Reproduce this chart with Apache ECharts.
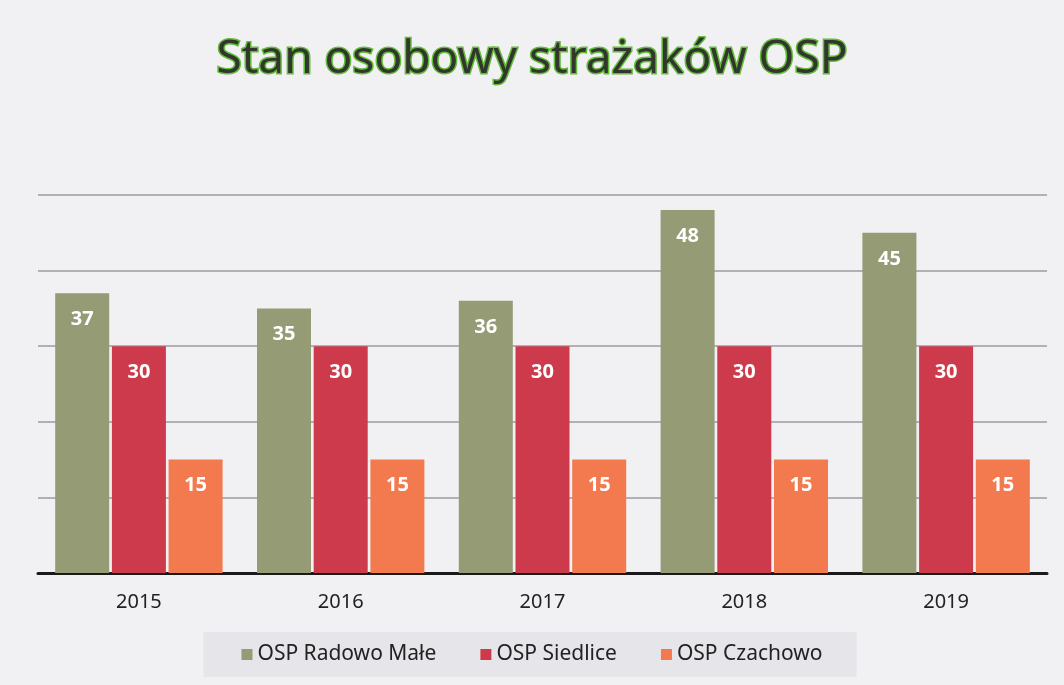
<!DOCTYPE html>
<html lang="pl">
<head>
    <meta charset="UTF-8">
    <title>Stan osobowy strażaków OSP</title>
    <script src="https://cdn.jsdelivr.net/npm/echarts@6/dist/echarts.min.js"></script>
    <style>
        html, body { margin: 0; padding: 0; background: #f1f0f3; }
        #chart { width: 1064px; height: 685px; }
    </style>
</head>
<body>
<div id="chart"></div>

<script type="text/javascript">
    // dane z wykresu
    var years = ['2015', '2016', '2017', '2018', '2019'];
    var radowo = [37, 35, 36, 48, 45];
    var siedlice = [30, 30, 30, 30, 30];
    var czachowo = [15, 15, 15, 15, 15];
    var names = ['OSP Radowo Małe', 'OSP Siedlice', 'OSP Czachowo'];
    var colors = ['#959b74', '#cd3a4c', '#f37a4e'];

    var font = 'Noto Sans';

    function barSeries(name, data, color) {
        return {
            name: name,
            type: 'bar',
            data: data,
            barWidth: 54,
            barGap: '5%',
            itemStyle: { color: color },
            label: {
                show: true,
                position: 'insideTop',
                distance: 16,
                color: '#ffffff',
                fontFamily: font,
                fontWeight: 'bold',
                fontSize: 20
            }
        };
    }

    var myChart = echarts.init(document.getElementById('chart'));
    var option = {
        backgroundColor: '#f1f0f3',
        title: {
            text: 'Stan osobowy strażaków OSP',
            left: 'center',
            top: 32,
            textStyle: {
                fontFamily: font,
                fontSize: 46,
                fontWeight: 'normal',
                color: '#33362f',
                textBorderColor: '#62bd38',
                textBorderWidth: 3
            }
        },
        legend: {
            data: names,
            bottom: 8,
            left: 'center',
            itemWidth: 11,
            itemHeight: 11,
            itemGap: 44,
            padding: [12, 34, 12, 38],
            backgroundColor: '#e6e5e9',
            icon: 'rect',
            textStyle: {
                fontFamily: font,
                fontSize: 21,
                color: '#222222'
            }
        },
        grid: {
            left: 38,
            right: 17,
            top: 195,
            bottom: 112
        },
        xAxis: {
            type: 'category',
            data: years,
            axisLine: { lineStyle: { color: '#1a1a1a', width: 3 } },
            axisTick: { show: false },
            axisLabel: {
                fontFamily: font,
                fontSize: 20,
                color: '#222222',
                margin: 19
            }
        },
        yAxis: {
            type: 'value',
            min: 0,
            max: 50,
            interval: 10,
            axisLabel: { show: false },
            axisLine: { show: false },
            axisTick: { show: false },
            splitLine: { lineStyle: { color: '#9c9ba0', width: 1.5 } }
        },
        series: [
            barSeries(names[0], radowo, colors[0]),
            barSeries(names[1], siedlice, colors[1]),
            barSeries(names[2], czachowo, colors[2])
        ]
    };
    myChart.setOption(option);
</script>
</body>
</html>
